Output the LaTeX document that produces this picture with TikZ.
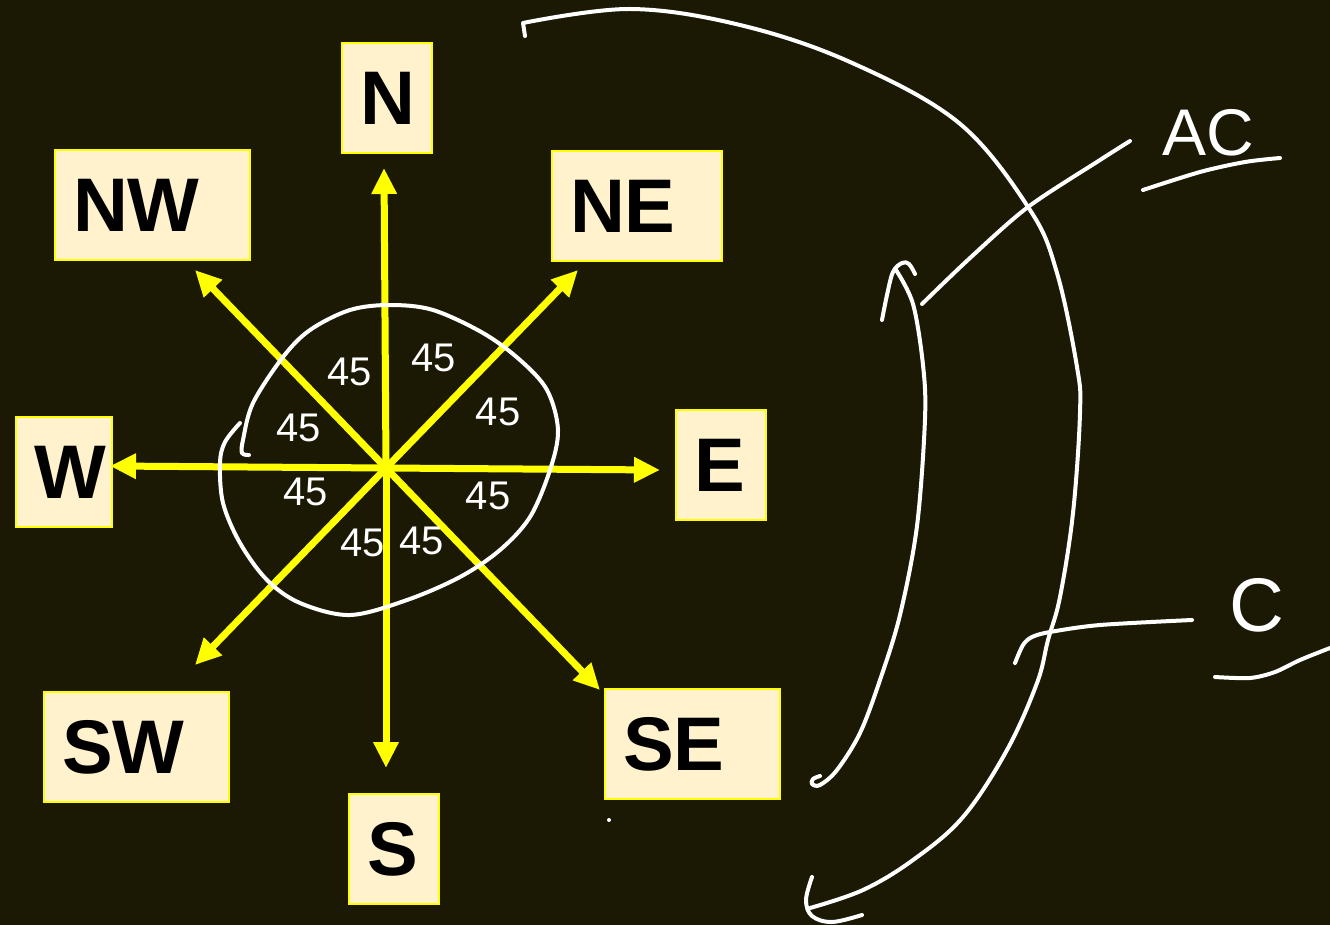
\documentclass[tikz,border=0pt]{standalone}
\usepackage{fontspec}
\setmainfont{Liberation Sans}
\usetikzlibrary{arrows.meta}
\definecolor{bg}{RGB}{27,25,4}
\definecolor{boxfill}{RGB}{255,242,204}
\definecolor{ylw}{RGB}{255,255,0}
\begin{document}
\begin{tikzpicture}[x=1pt,y=-1pt,
  box/.style={draw=ylw, line width=2pt, fill=boxfill,
    font=\fontsize{76}{80}\selectfont\bfseries, text=black,
    inner xsep=18pt, inner ysep=0pt, align=left, anchor=north west,
    minimum height=110pt},
  arr/.style={draw=ylw, line width=7pt, -{Triangle[length=26pt,width=24pt]}},
  hand/.style={draw=white, line width=4pt, line cap=round, line join=round},
  num/.style={text=white, font=\fontsize{40}{40}\selectfont, inner sep=0pt},
  lbl/.style={text=white, inner sep=0pt}]
\fill[bg] (0,0) rectangle (1330,925);
\useasboundingbox (0,0) rectangle (1330,925);

% boxes
\node[box, minimum width=195pt, text width=159pt] (NW) at (54,149) {NW};
\node[box, minimum width=90pt, text width=54pt] (N) at (341,42) {N};
\node[box, minimum width=170pt, text width=134pt] (NE) at (551,150) {NE};
\node[box, minimum width=96pt, text width=60pt] (W) at (15,416) {W};
\node[box, minimum width=90pt, text width=54pt] (E) at (675,409) {E};
\node[box, minimum width=185pt, text width=149pt] (SW) at (43,691) {SW};
\node[box, minimum width=90pt, text width=54pt] (S) at (348,793) {S};
\node[box, minimum width=175pt, text width=139pt] (SE) at (604,688) {SE};

% arrows
\coordinate (c) at (386,468);
\coordinate (tN) at (384,168);
\coordinate (tNE) at (578,270);
\coordinate (tE) at (660,470);
\coordinate (tSE) at (600,690);
\coordinate (tS) at (386,768);
\coordinate (tSW) at (195,665);
\coordinate (tNW) at (195,270);
\coordinate (tW) at (110,466);
\foreach \t in {tN,tNE,tE,tSE,tS,tSW,tNW,tW} \draw[arr] (c) -- (\t);

% hand-drawn loop around the centre
\draw[hand] plot[smooth, tension=0.55] coordinates {(249,455) (242,453) (243,440) (253,403) (283,357) (310,330) (350,310) (390,305) (433,310) (483,333) (520,360) (547,390) (558,430) (550,470) (530,517) (500,550) (460,577) (407,600) (350,615) (300,603) (267,580) (240,543) (223,503) (220,463) (225,442) (240,423)};

% 45 labels
\node[num] (a1) at (350,372) {45};
\node[num] (a2) at (434,358) {45};
\node[num] (a3) at (299,428) {45};
\node[num] (a4) at (498,412) {45};
\node[num] (a5) at (306,492) {45};
\node[num] (a6) at (488,496) {45};
\node[num] (a7) at (363,543) {45};
\node[num] (a8) at (422,541) {45};

% big outer arc
\draw[hand] (525,36) -- (523,23) plot[smooth, tension=0.6] coordinates {(523,23) (630,9) (740,25) (850,62) (959,123) (1030,210) (1057,273) (1077,367) (1080,413) (1073,513) (1060,597) (1048,640) (1037,683) (1007,750) (963,817) (913,860) (863,890) (810,908)};
\draw[hand] plot[smooth, tension=0.6] coordinates {(812,877) (806,900) (812,916) (832,922) (862,915)};

% inner arc
\draw[hand] plot[smooth, tension=0.6] coordinates {(882,320) (887,295) (893,272) (902,263) (909,264) (915,274)};
\draw[hand] plot[smooth, tension=0.55] coordinates {(896,270) (913,304) (923,365) (925,419) (917,526) (900,615) (880,680) (860,733) (837,770) (820,785) (812,784) (813,779) (820,776)};

% AC pointer
\draw[hand] plot[smooth, tension=0.5] coordinates {(922,304) (970,258) (1028,207) (1100,160) (1130,141)};
\node[lbl, font=\fontsize{66}{66}\selectfont] (AC) at (1208,133) {AC};
\draw[hand] plot[smooth, tension=0.5] coordinates {(1143,190) (1200,172) (1245,162) (1280,158)};

% C pointer
\draw[hand] plot[smooth, tension=0.5] coordinates {(1015,663) (1023,645) (1032,637) (1050,632) (1100,625) (1192,620)};
\node[lbl, font=\fontsize{76}{76}\selectfont] (C) at (1257,605) {C};
\draw[hand] plot[smooth, tension=0.5] coordinates {(1215,677) (1250,678) (1275,672) (1300,660) (1330,648)};

% stray dot
\fill[white] (609,820) circle (2pt);
\end{tikzpicture}
\end{document}
